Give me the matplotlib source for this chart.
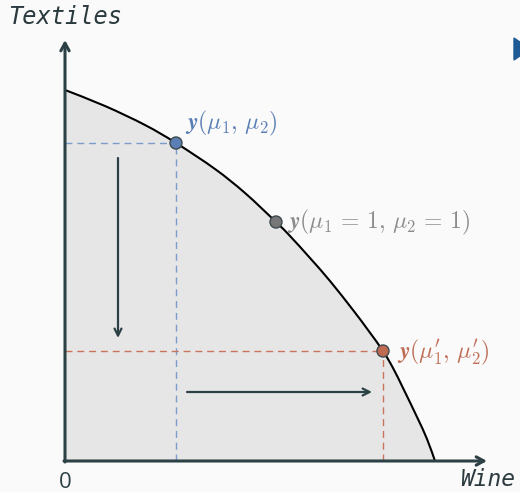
import matplotlib

matplotlib.use("Agg")
import matplotlib.pyplot as plt
from matplotlib.patches import Polygon, PathPatch
from matplotlib.path import Path

# frontier (wine, textiles)
wine = [0.00, 0.40, 0.80, 1.11, 1.50, 1.80, 2.11, 2.25, 2.45, 2.65, 2.88, 3.03,
        3.18, 3.28, 3.38, 3.52, 3.62, 3.70]
textiles = [3.71, 3.55, 3.36, 3.18, 2.92, 2.68, 2.39, 2.25, 2.03, 1.80, 1.51, 1.31,
            1.10, 0.93, 0.73, 0.44, 0.22, 0.00]

point_wine = [1.11, 2.11, 3.18]
point_textiles = [3.18, 2.39, 1.10]
point_labels = [r"$\boldsymbol{y}(\mu_1,\, \mu_2)$",
                r"$\boldsymbol{y}(\mu_1\, =\, 1,\, \mu_2\, =\, 1)$",
                r"$\boldsymbol{y}(\mu_1',\, \mu_2')$"]
point_colors = ["#5a7fb5", "#777777", "#c06a52"]
label_colors = ["#5a7fb5", "#8c8c8c", "#bf6f58"]
dash_colors = ["#7c9dcc", None, "#c9745d"]

axis_color = "#2c4146"
bg = "#fafafa"

plt.rcParams["mathtext.fontset"] = "cm"


def smooth_path(xs, ys):
    # Catmull-Rom through the read points, handed to matplotlib as cubic Beziers
    pts = list(zip(xs, ys))
    verts = [pts[0]]
    codes = [Path.MOVETO]
    for i in range(len(pts) - 1):
        p0 = pts[max(i - 1, 0)]
        p1 = pts[i]
        p2 = pts[i + 1]
        p3 = pts[min(i + 2, len(pts) - 1)]
        c1 = (p1[0] + (p2[0] - p0[0]) / 6, p1[1] + (p2[1] - p0[1]) / 6)
        c2 = (p2[0] - (p3[0] - p1[0]) / 6, p2[1] - (p3[1] - p1[1]) / 6)
        verts += [c1, c2, p2]
        codes += [Path.CURVE4] * 3
    return verts, codes


fig = plt.figure(figsize=(5.2, 4.92), dpi=100, facecolor=bg)
ax = fig.add_axes([0, 0, 1, 1])
ax.set_facecolor(bg)
ax.set_xlim(-0.65, 4.55)
ax.set_ylim(-0.31, 4.61)
ax.axis("off")

verts, codes = smooth_path(wine, textiles)

# feasible region
fill_verts = verts + [(0, 0), (0, textiles[0])]
fill_codes = codes + [Path.LINETO, Path.CLOSEPOLY]
ax.add_patch(PathPatch(Path(fill_verts, fill_codes), facecolor="#e6e6e6", lw=0, zorder=1))
ax.add_patch(PathPatch(Path(verts, codes), facecolor="none", edgecolor="black",
                       lw=1.5, zorder=3))

# projections onto the axes
for xw, yt, c in zip(point_wine, point_textiles, dash_colors):
    if c is None:
        continue
    ax.plot([0, xw], [yt, yt], color=c, lw=1.0, dashes=(5, 3.5), zorder=2)
    ax.plot([xw, xw], [0, yt], color=c, lw=1.0, dashes=(5, 3.5), zorder=2)

# axes with arrow heads
axis_arrow = dict(arrowstyle="->,head_length=0.55,head_width=0.3",
                  color=axis_color, lw=2.2, shrinkA=0, shrinkB=0)
ax.annotate("", xy=(0, 4.21), xytext=(0, -0.01), arrowprops=axis_arrow, zorder=4)
ax.annotate("", xy=(4.22, 0), xytext=(-0.01, 0), arrowprops=axis_arrow, zorder=4)

# direction arrows
dir_arrow = dict(arrowstyle="->,head_length=0.5,head_width=0.25",
                 color=axis_color, lw=1.6, shrinkA=0, shrinkB=0)
ax.annotate("", xy=(0.53, 1.23), xytext=(0.53, 3.03), arrowprops=dir_arrow, zorder=4)
ax.annotate("", xy=(3.07, 0.69), xytext=(1.22, 0.69), arrowprops=dir_arrow, zorder=4)

# points and labels
ax.scatter(point_wine, point_textiles, s=75, c=point_colors, edgecolors="#3d4a4d",
           linewidths=1.0, zorder=5)
offsets = [(0.09, 0.20), (0.11, 0.0), (0.14, -0.01)]
for xw, yt, lab, c, (dx, dy) in zip(point_wine, point_textiles, point_labels,
                                     label_colors, offsets):
    ax.text(xw + dx, yt + dy, lab, color=c, fontsize=17, va="center", ha="left",
            zorder=6)

mono = dict(family="DejaVu Sans Mono", style="italic", color="#2b3a3f")
ax.text(-0.57, 4.44, "Textiles", ha="left", va="center", fontsize=17, **mono)
ax.text(4.50, -0.185, "Wine", ha="right", va="center", fontsize=16.5, **mono)
ax.text(0, -0.21, "0", ha="center", va="center", fontsize=16, color=axis_color,
        family="Open Sans")

# cut-off navigation marker at the right edge
fig.patches.append(Polygon([(514 / 520, 1 - 38 / 492), (530 / 520, 1 - 49 / 492),
                            (514 / 520, 1 - 60 / 492)], closed=True,
                           transform=fig.transFigure, color="#1f5a94"))

fig.savefig("out.png", dpi=100, facecolor=bg)
